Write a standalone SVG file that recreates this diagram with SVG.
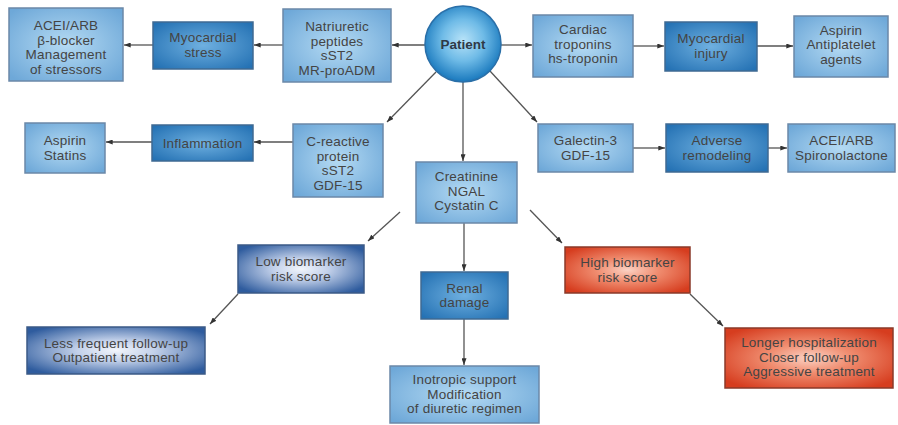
<svg xmlns="http://www.w3.org/2000/svg" width="898" height="425" viewBox="0 0 898 425">
<defs>
<radialGradient id="gLight" cx="50%" cy="50%" r="65%">
<stop offset="0" stop-color="#b4daf3"/><stop offset="1" stop-color="#6ea8d8"/>
</radialGradient>
<radialGradient id="gDark" cx="50%" cy="50%" r="65%">
<stop offset="0" stop-color="#6fb0e0"/><stop offset="1" stop-color="#2572b4"/>
</radialGradient>
<radialGradient id="gNavy" cx="50%" cy="50%" r="62%">
<stop offset="0" stop-color="#f2f5fb"/><stop offset="0.35" stop-color="#c3d1ea"/><stop offset="1" stop-color="#2f5c9e"/>
</radialGradient>
<radialGradient id="gRed" cx="50%" cy="50%" r="62%">
<stop offset="0" stop-color="#fbd2c4"/><stop offset="0.4" stop-color="#f08d70"/><stop offset="1" stop-color="#d63d1f"/>
</radialGradient>
<radialGradient id="gCircle" cx="50%" cy="45%" r="55%">
<stop offset="0" stop-color="#b8e3f8"/><stop offset="0.5" stop-color="#6fbbe7"/><stop offset="1" stop-color="#1878bd"/>
</radialGradient>
<marker id="arr" viewBox="0 0 8 6" refX="8" refY="3" markerWidth="7" markerHeight="5" markerUnits="userSpaceOnUse" orient="auto">
<path d="M0,0 L8,3 L0,6 z" fill="#333"/>
</marker>
</defs>
<style>
.box{stroke:#6b88a8;stroke-width:1.5}
.light{fill:url(#gLight)}
.dark{fill:url(#gDark);stroke:#3f6a92}
.navy{fill:url(#gNavy);stroke:#3b5a86}
.red{fill:url(#gRed);stroke:#8a3a2a}
text{font-family:"Liberation Sans",Arial,sans-serif;font-size:13.5px;letter-spacing:0.2px;fill:#444;text-anchor:middle}
.bold{font-weight:bold;fill:#2f3a46;letter-spacing:0}
.conn line{stroke:#555;stroke-width:1.3;marker-end:url(#arr)}
</style>
<rect width="898" height="425" fill="#fff"/>

<g class="conn" id="connectors">
<line x1="425" y1="45" x2="392" y2="45"/>
<line x1="283" y1="45" x2="254" y2="45"/>
<line x1="153" y1="45" x2="124" y2="45"/>
<line x1="501" y1="45" x2="532" y2="45"/>
<line x1="633" y1="46" x2="664" y2="46"/>
<line x1="757" y1="46" x2="793" y2="46"/>
<line x1="293" y1="142" x2="254" y2="142"/>
<line x1="152" y1="142" x2="106" y2="142"/>
<line x1="436" y1="72" x2="387" y2="122"/>
<line x1="463" y1="82" x2="463" y2="161"/>
<line x1="490" y1="71" x2="537" y2="122"/>
<line x1="633" y1="148" x2="665" y2="148"/>
<line x1="768" y1="148" x2="787" y2="148"/>
<line x1="400" y1="212" x2="368" y2="241"/>
<line x1="464" y1="223" x2="464" y2="271"/>
<line x1="530" y1="210" x2="562" y2="243"/>
<line x1="238" y1="294" x2="210" y2="324"/>
<line x1="464" y1="319" x2="464" y2="365"/>
<line x1="690" y1="294" x2="723" y2="326"/>
</g>

<g id="acei1"><rect class="box light" x="9" y="8" width="114" height="73"/>
<text x="66" y="30">ACEI/ARB</text><text x="66" y="44.5">β-blocker</text><text x="66" y="59">Management</text><text x="66" y="73.5">of stressors</text></g>

<g id="mstress"><rect class="box dark" x="153" y="22" width="100" height="47"/>
<text x="203" y="42">Myocardial</text><text x="203" y="56.5">stress</text></g>

<g id="natri"><rect class="box light" x="283" y="9" width="108" height="73"/>
<text x="337" y="31">Natriuretic</text><text x="337" y="45.5">peptides</text><text x="337" y="60">sST2</text><text x="337" y="74.5">MR-proADM</text></g>

<g id="patient"><circle cx="463" cy="44" r="38" fill="url(#gCircle)" stroke="#2a6fa8" stroke-width="1.5"/>
<text class="bold" x="463" y="48.5">Patient</text></g>

<g id="troponin"><rect class="box light" x="533" y="15" width="100" height="62"/>
<text x="583" y="34">Cardiac</text><text x="583" y="48.5">troponins</text><text x="583" y="63">hs-troponin</text></g>

<g id="minjury"><rect class="box dark" x="665" y="22" width="92" height="49"/>
<text x="711" y="43">Myocardial</text><text x="711" y="57.5">injury</text></g>

<g id="aspirin1"><rect class="box light" x="794" y="16" width="94" height="61"/>
<text x="841" y="34.5">Aspirin</text><text x="841" y="49">Antiplatelet</text><text x="841" y="63.5">agents</text></g>

<g id="aspstat"><rect class="box light" x="25" y="123" width="80" height="50"/>
<text x="65" y="145">Aspirin</text><text x="65" y="159.5">Statins</text></g>

<g id="inflam"><rect class="box dark" x="152" y="125" width="101" height="36"/>
<text x="202.5" y="147.5">Inflammation</text></g>

<g id="crp"><rect class="box light" x="293" y="124" width="90" height="73"/>
<text x="338" y="146">C-reactive</text><text x="338" y="160.5">protein</text><text x="338" y="175">sST2</text><text x="338" y="189.5">GDF-15</text></g>

<g id="creat"><rect class="box light" x="416" y="162" width="101" height="61"/>
<text x="466.5" y="181">Creatinine</text><text x="466.5" y="195.5">NGAL</text><text x="466.5" y="210">Cystatin C</text></g>

<g id="galectin"><rect class="box light" x="538" y="124" width="95" height="48"/>
<text x="585.5" y="145">Galectin-3</text><text x="585.5" y="159.5">GDF-15</text></g>

<g id="adverse"><rect class="box dark" x="666" y="124" width="102" height="48"/>
<text x="717" y="145">Adverse</text><text x="717" y="159.5">remodeling</text></g>

<g id="acei2"><rect class="box light" x="788" y="124" width="107" height="48"/>
<text x="841.5" y="145">ACEI/ARB</text><text x="841.5" y="159.5">Spironolactone</text></g>

<g id="low"><rect class="box navy" x="238" y="245" width="126" height="48"/>
<text x="301" y="266">Low biomarker</text><text x="301" y="280.5">risk score</text></g>

<g id="renal"><rect class="box dark" x="421" y="272" width="87" height="47"/>
<text x="464.5" y="292.5">Renal</text><text x="464.5" y="307">damage</text></g>

<g id="high"><rect class="box red" x="565" y="247" width="125" height="46"/>
<text x="627.5" y="267">High biomarker</text><text x="627.5" y="281.5">risk score</text></g>

<g id="less"><rect class="box navy" x="27" y="327" width="178" height="47"/>
<text x="116" y="347.5">Less frequent follow-up</text><text x="116" y="362">Outpatient treatment</text></g>

<g id="inotropic"><rect class="box light" x="390" y="366" width="149" height="57"/>
<text x="464.5" y="384">Inotropic support</text><text x="464.5" y="398.5">Modification</text><text x="464.5" y="413">of diuretic regimen</text></g>

<g id="longer"><rect class="box red" x="725" y="328" width="168" height="60"/>
<text x="809" y="347">Longer hospitalization</text><text x="809" y="361.5">Closer follow-up</text><text x="809" y="376">Aggressive treatment</text></g>
</svg>
